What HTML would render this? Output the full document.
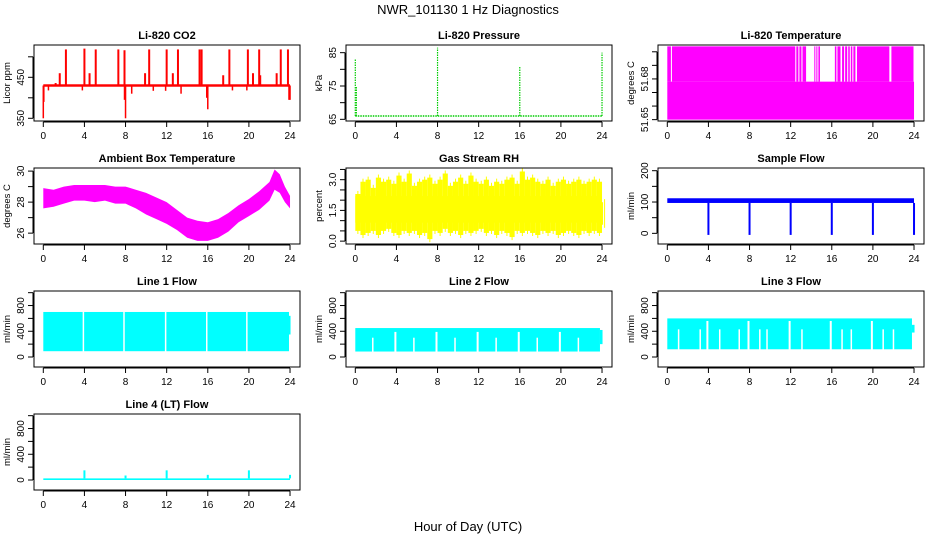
<!DOCTYPE html>
<html><head><meta charset="utf-8"><style>
body{margin:0;background:#fff}
svg{display:block;font-family:"Liberation Sans",sans-serif}
</style></head><body>
<svg id="c" width="936" height="540" viewBox="0 0 936 540">
<text x="468" y="14" text-anchor="middle" font-size="13">NWR_101130  1 Hz Diagnostics</text>
<text x="468" y="531" text-anchor="middle" font-size="13">Hour of Day (UTC)</text>
</svg>
<script>
const xTicks=[0,4,8,12,16,20,24];
// CO2
const co2Base=430;
const co2SpikeHours=[2.2,4.0,5.1,7.3,7.9,10.3,12.0,13.1,15.2,15.4,18.1,19.9,21.0,23.1,23.8,1.6,1.2,4.5,9.9,12.6,17.5,20.4,22.7,21.1];
const co2SpikeVals=[518,520,518,518,516,518,518,518,518,518,518,518,518,518,518,460,436,460,460,460,455,460,460,455];
const co2DipHours=[0.0,0.05,0.5,3.8,7.9,8.0,8.6,10.7,11.9,13.4,15.9,16.0,18.4,19.8,23.9,24.0];
const co2DipVals=[350,390,418,418,395,350,410,417,417,410,400,372,418,418,395,395];
// Pressure
const presBase=66;
const presSpikeHours=[0.0,0.1,8.0,16.0,24.0];
const presSpikeVals=[83,75,86.5,81,85];
// Li-820 temperature
const tLow=51.65, tMid=51.678, tHigh=51.704;
const tGapStart=[0.35,12.45,12.75,13.05,13.5,14.4,14.6,14.85,16.45,16.85,17.2,17.5,17.75,18.0,18.3,21.6];
const tGapEnd=[0.45,12.55,12.85,13.15,14.3,14.5,14.7,16.3,16.55,17.0,17.3,17.6,17.85,18.1,18.45,21.8];
// Ambient box temperature
const ambHours=[0,1,2,3,4,5,6,7,8,9,10,11,12,13,14,15,16,17,18,19,20,21,22,22.5,23,23.5,24];
const ambLo=[27.6,27.7,27.9,28.1,28.1,28.0,28.1,27.9,27.9,27.6,27.2,26.9,26.6,26.2,25.7,25.5,25.5,25.7,26.1,26.7,27.1,27.5,28.1,28.8,28.6,28.0,27.6];
const ambHi=[28.9,28.8,29.0,29.1,29.1,29.1,29.1,29.0,29.0,28.8,28.6,28.3,28.0,27.5,27.0,26.8,26.7,26.9,27.3,27.8,28.2,28.7,29.3,30.1,29.8,29.0,28.4];
// Gas stream RH (half-hourly envelope)
const rhHi=[2.3,2.9,3.0,2.6,3.1,2.9,3.0,2.8,3.2,2.9,3.3,2.7,2.9,3.0,3.1,2.8,3.0,3.3,2.7,2.9,3.1,2.8,3.2,2.9,2.8,3.0,2.7,2.9,2.8,3.0,3.1,2.8,3.4,3.0,3.1,2.9,2.8,3.0,2.7,2.9,3.0,2.8,2.9,3.0,2.8,2.9,3.0,2.9,1.9];
const rhLo=[0.5,0.3,0.4,0.5,0.3,0.5,0.6,0.4,0.3,0.5,0.4,0.5,0.3,0.4,0.1,0.5,0.4,0.6,0.4,0.5,0.3,0.5,0.4,0.5,0.6,0.4,0.5,0.3,0.5,0.4,0.2,0.5,0.4,0.5,0.4,0.3,0.5,0.4,0.5,0.3,0.4,0.5,0.4,0.3,0.5,0.4,0.5,0.4,0.8];
const rhCoreLo=0.9, rhCoreHi=2.2;
// Sample flow
const sfLo=97, sfHi=112;
const sfDipHours=[4,8,12,16,20,24];
const sfDipVals=[-5,-5,-5,-5,-5,-5];
// Line flows
const l1Lo=90, l1Hi=700;
const l1Gaps=[3.9,7.85,11.9,15.9,19.8];
const l2Lo=85, l2Hi=450, l2GapTop=300;
const l2Gaps=[1.7,5.7,9.7,13.7,17.7,21.7];
const l2FullGaps=[3.9,7.9,11.9,15.9,19.9];
const l3Lo=120, l3Hi=600, l3GapTop=430;
const l3Gaps=[1.1,3.2,5.1,7.0,9.0,9.7,13.1,17.0,17.9,21.0,22.0];
const l3FullGaps=[3.9,7.9,11.9,15.9,19.9];
const l4Lo=0, l4Hi=25;
const l4SpikeHours=[4,8,12,16,20,24];
const l4SpikeVals=[150,70,150,80,150,80];

const svg=document.getElementById('c');
const NS='http://www.w3.org/2000/svg';
function mk(tag,attrs,parent){const e=document.createElementNS(NS,tag);for(const k in attrs)e.setAttribute(k,attrs[k]);(parent||svg).appendChild(e);return e;}

function panel(name,col,row,title,ylab,ymin,ymax,yt,yl){
  const L=[34,346,658][col],T=[45,168,291,414][row],W=266,H=76;
  const g=mk('g',{});
  
  
  const sx=h=>L+9.3+h*10.28;
  const sy=v=>T+H-(v-ymin)/(ymax-ymin)*H;
  const clip=mk('clipPath',{id:'cl'+name},g);
  mk('rect',{x:L,y:T,width:W,height:H},clip);
  const data=mk('g',{'clip-path':'url(#cl'+name+')'},g);
  
  
  const box=mk('rect',{x:L,y:T,width:W,height:H,fill:'none',stroke:'#000','stroke-width':1},g);
  
  
  const tt=mk('text',{x:L+W/2,y:T-6,'text-anchor':'middle','font-size':11,'font-weight':'bold'},g);
  tt.textContent=title;
  
  
  const xa=mk('g',{},g);
  
  
  mk('line',{x1:sx(0),x2:sx(24),y1:T+H+1,y2:T+H+1,stroke:'#000'},xa);
  xTicks.forEach(h=>{mk('line',{x1:sx(h),x2:sx(h),y1:T+H+1,y2:T+H+6,stroke:'#000'},xa);
    const t=mk('text',{x:sx(h),y:T+H+18,'text-anchor':'middle','font-size':10},xa);t.textContent=h;});
  const ya=mk('g',{},g);
  
  
  mk('line',{x1:L-1,x2:L-1,y1:sy(yt[0]),y2:sy(yt[yt.length-1]),stroke:'#000'},ya);
  yt.forEach((v,i)=>{mk('line',{x1:L-6,x2:L-1,y1:sy(v),y2:sy(v),stroke:'#000'},ya);
    if(yl[i]){const t=mk('text',{x:L-10,y:sy(v),'text-anchor':'middle','font-size':10,transform:`rotate(-90 ${L-10} ${sy(v)})`},ya);t.textContent=yl[i];}});
  const yt2=mk('text',{x:L-24,y:T+H/2,'text-anchor':'middle','font-size':9.5,transform:`rotate(-90 ${L-24} ${T+H/2})`},g);
  yt2.textContent=ylab;
  
  
  return {sx,sy,g:data};
}
function vline(p,h,v1,v2,col,w,extra){const a={x1:p.sx(h),x2:p.sx(h),y1:p.sy(v1),y2:p.sy(v2),stroke:col,'stroke-width':w||1.5};Object.assign(a,extra||{});return mk('line',a,p.g);}
function band(p,h1,h2,v1,v2,col){return mk('rect',{x:p.sx(h1),y:p.sy(v2),width:p.sx(h2)-p.sx(h1),height:p.sy(v1)-p.sy(v2),fill:col},p.g);}

// CO2
let p=panel('co2',0,0,'Li-820 CO2','Licor ppm',343.4,528.8,[350,400,450,500],['350','','450','']);
band(p,0,24,co2Base-3,co2Base+3,'#f00');
co2SpikeHours.forEach((h,i)=>vline(p,h,co2Base,co2SpikeVals[i],'#f00',2));
co2DipHours.forEach((h,i)=>vline(p,h,co2Base,co2DipVals[i],'#f00',1.5));
// Pressure
p=panel('pressure',1,0,'Li-820 Pressure','kPa',64.5,87.3,[65,70,75,80,85],['65','','75','','85']);
mk('line',{x1:p.sx(0),x2:p.sx(24),y1:p.sy(presBase),y2:p.sy(presBase),stroke:'#0c0','stroke-width':1.5,'stroke-dasharray':'1.5 1'},p.g);
presSpikeHours.forEach((h,i)=>vline(p,h,presBase,presSpikeVals[i],'#0c0',1.2,{'stroke-dasharray':'1.5 1'}));
// Temp
p=panel('li820-temp',2,0,'Li-820 Temperature','degrees C',51.649,51.705,[51.65,51.66,51.67,51.68,51.69,51.70],['51.65','','','51.68','','']);
band(p,0,24,tLow,tMid,'#f0f');
let prev=0;
tGapStart.forEach((s,i)=>{band(p,prev,s,tMid,tHigh,'#f0f');prev=tGapEnd[i];});
band(p,prev,23.95,tMid,tHigh,'#f0f');
// Ambient
p=panel('ambient',0,1,'Ambient Box Temperature','degrees C',25.3,30.2,[26,27,28,29,30],['26','','28','','30']);
let pts=ambHours.map((h,i)=>p.sx(h)+','+p.sy(ambHi[i])).concat(ambHours.slice().reverse().map((h,j)=>{const i=ambHours.length-1-j;return p.sx(h)+','+p.sy(ambLo[i]);}));
mk('polygon',{points:pts.join(' '),fill:'#f0f'},p.g);
// RH
p=panel('rh',1,1,'Gas Stream RH','percent',-0.14,3.57,[0,0.5,1,1.5,2,2.5,3,3.5],['0.0','','','1.5','','','3.0','']);
band(p,0,24,rhCoreLo,rhCoreHi,'#ff0');
rhHi.forEach((v,i)=>{const h=Math.min(24,i*0.5);const h2=Math.min(24,h+0.5);band(p,h,h2===h?h+0.1:h2,rhLo[i],v,'#ff0');
  vline(p,h+0.25,rhLo[i]-0.15,v+0.15,'#ff0',1);});
// Sample flow
p=panel('sample-flow',2,1,'Sample Flow','ml/min',-34,208.6,[0,50,100,150,200],['0','','100','','200']);
band(p,0,24,sfLo,sfHi,'#00f');
sfDipHours.forEach((h,i)=>vline(p,h,sfLo,sfDipVals[i],'#00f',2));
// Line 1
const lt=[0,200,400,600,800,1000],ll=['0','','400','','800',''];
p=panel('line1',0,2,'Line 1 Flow','ml/min',-155.5,1026,lt,ll);
band(p,0,23.9,l1Lo,l1Hi,'#0ff');band(p,23.9,24.05,350,640,'#0ff');
l1Gaps.forEach(h=>vline(p,h,l1Lo-10,l1Hi+10,'#fff',1.5));
// Line 2
p=panel('line2',1,2,'Line 2 Flow','ml/min',-155.5,1026,lt,ll);
band(p,0,23.8,l2Lo,l2Hi,'#0ff');band(p,23.8,24.05,200,420,'#0ff');
l2Gaps.forEach(h=>vline(p,h,l2Lo-10,l2GapTop,'#fff',1.5));
l2FullGaps.forEach(h=>vline(p,h,l2Lo-10,l2Hi-60,'#fff',2));
// Line 3
p=panel('line3',2,2,'Line 3 Flow','ml/min',-155.5,1026,lt,ll);
band(p,0,23.8,l3Lo,l3Hi,'#0ff');band(p,23.8,24.05,380,500,'#0ff');
l3Gaps.forEach(h=>vline(p,h,l3Lo-10,l3GapTop,'#fff',1.5));
l3FullGaps.forEach(h=>vline(p,h,l3Lo-10,l3Hi-40,'#fff',2));
// Line 4
p=panel('line4',0,3,'Line 4 (LT) Flow','ml/min',-155.5,1026,lt,ll);
band(p,0,24,l4Lo,l4Hi,'#0ff');
l4SpikeHours.forEach((h,i)=>vline(p,h,l4Hi,l4SpikeVals[i],'#0ff',2));
</script>
</body></html>
